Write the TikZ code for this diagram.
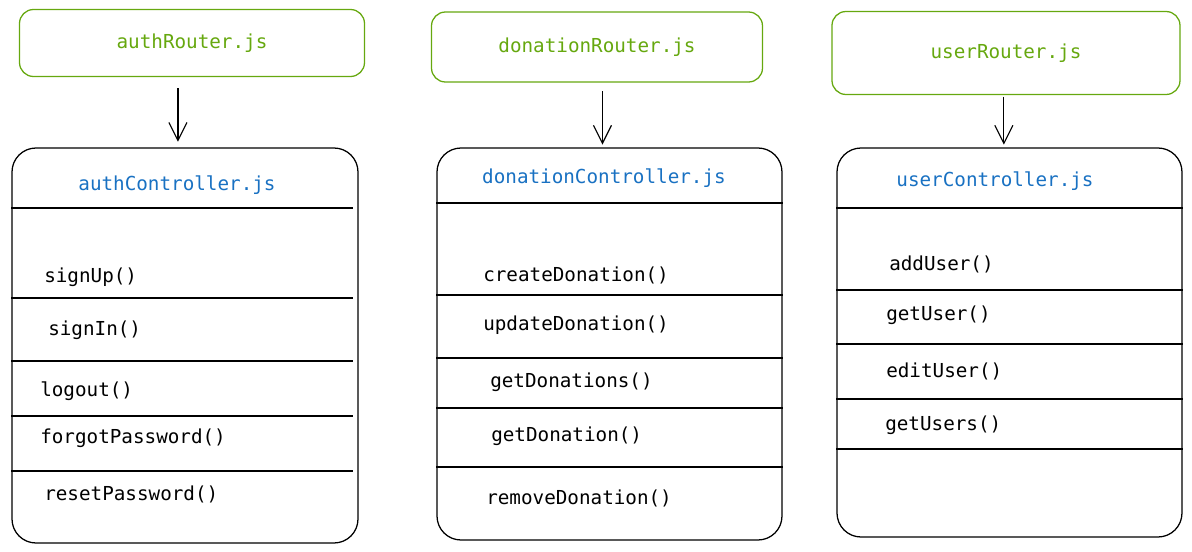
\documentclass[tikz,border=0pt]{standalone}
\usepackage{fontspec}
\setmonofont{DejaVu Sans Mono}
\usepackage{xcolor}
\usepackage{tikz}
\usetikzlibrary{arrows.meta,positioning}

\definecolor{routergreen}{HTML}{66A80F}
\definecolor{ctrlblue}{HTML}{1971C2}

\begin{document}
\begin{tikzpicture}[
  x=0.025cm, y=-0.025cm,
  router/.style={rectangle, rounded corners=0.35cm, draw=routergreen, line width=0.9pt,
    text=routergreen, font=\ttfamily\fontsize{13.7}{16}\selectfont},
  ctrl/.style={rectangle, rounded corners=0.6cm, draw=black, line width=0.9pt},
  header/.style={text=ctrlblue, font=\ttfamily\fontsize{13.7}{16}\selectfont},
  method/.style={anchor=west, inner sep=0pt, font=\ttfamily\fontsize{13.7}{16}\selectfont},
  sep/.style={line width=0.9pt},
  arrow/.style={-{Straight Barb[length=4.5mm, width=4.5mm]}, line width=0.8pt},
]
  \useasboundingbox (0,0) rectangle (1192,552);

  % routers
  \node[router, minimum width=345*0.025cm, minimum height=67*0.025cm] (authR) at (192,43) {authRouter.js};
  \node[router, minimum width=331*0.025cm, minimum height=70*0.025cm] (donR) at (597,47) {donationRouter.js};
  \node[router, minimum width=348*0.025cm, minimum height=83*0.025cm] (userR) at (1006,53) {userRouter.js};

  % controllers
  \node[ctrl, minimum width=346*0.025cm, minimum height=395*0.025cm] (authC) at (185,345.5) {};
  \node[ctrl, minimum width=345*0.025cm, minimum height=392*0.025cm] (donC) at (609.5,344) {};
  \node[ctrl, minimum width=345*0.025cm, minimum height=389*0.025cm] (userC) at (1009.5,342.5) {};

  \node[header] (authH) at (177,185) {authController.js};
  \node[header] (donH) at (604,178) {donationController.js};
  \node[header] (userH) at (995,181) {userController.js};

  \draw[arrow, shorten <=8pt, shorten >=4pt] ([xshift=-5pt]authC.north |- authR.south) -- ([xshift=-5pt]authC.north);
  \draw[arrow, shorten <=6pt, shorten >=2pt] ([xshift=-5pt]donC.north |- donR.south) -- ([xshift=-5pt]donC.north);
  \draw[arrow, shorten <=1pt, shorten >=2pt] ([xshift=-4pt]userC.north |- userR.south) -- ([xshift=-4pt]userC.north);

  % auth methods
  \foreach \yy in {208,298,361,416,471}
    \draw[sep] (authC.west |- 0,\yy) -- ([xshift=-4pt]authC.east |- 0,\yy);
  \node[method] (signUp) at (44,277) {signUp()};
  \node[method] (signIn) at (48,330) {signIn()};
  \node[method] (logout) at (40,391) {logout()};
  \node[method] (forgot) at (40,438) {forgotPassword()};
  \node[method] (reset) at (44,494) {resetPassword()};

  % donation methods
  \foreach \yy in {203,295,358,408,467}
    \draw[sep] (donC.west |- 0,\yy) -- (donC.east |- 0,\yy);
  \node[method] (createD) at (483,275) {createDonation()};
  \node[method] (updateD) at (483,325) {updateDonation()};
  \node[method] (getDs) at (490,382) {getDonations()};
  \node[method] (getD) at (491,436) {getDonation()};
  \node[method] (removeD) at (486,498) {removeDonation()};

  % user methods
  \foreach \yy in {208,290,344,399,449}
    \draw[sep] (userC.west |- 0,\yy) -- (userC.east |- 0,\yy);
  \node[method] (addU) at (889,264) {addUser()};
  \node[method] (getU) at (886,315) {getUser()};
  \node[method] (editU) at (886,371) {editUser()};
  \node[method] (getUs) at (885,425) {getUsers()};
\end{tikzpicture}
\end{document}
